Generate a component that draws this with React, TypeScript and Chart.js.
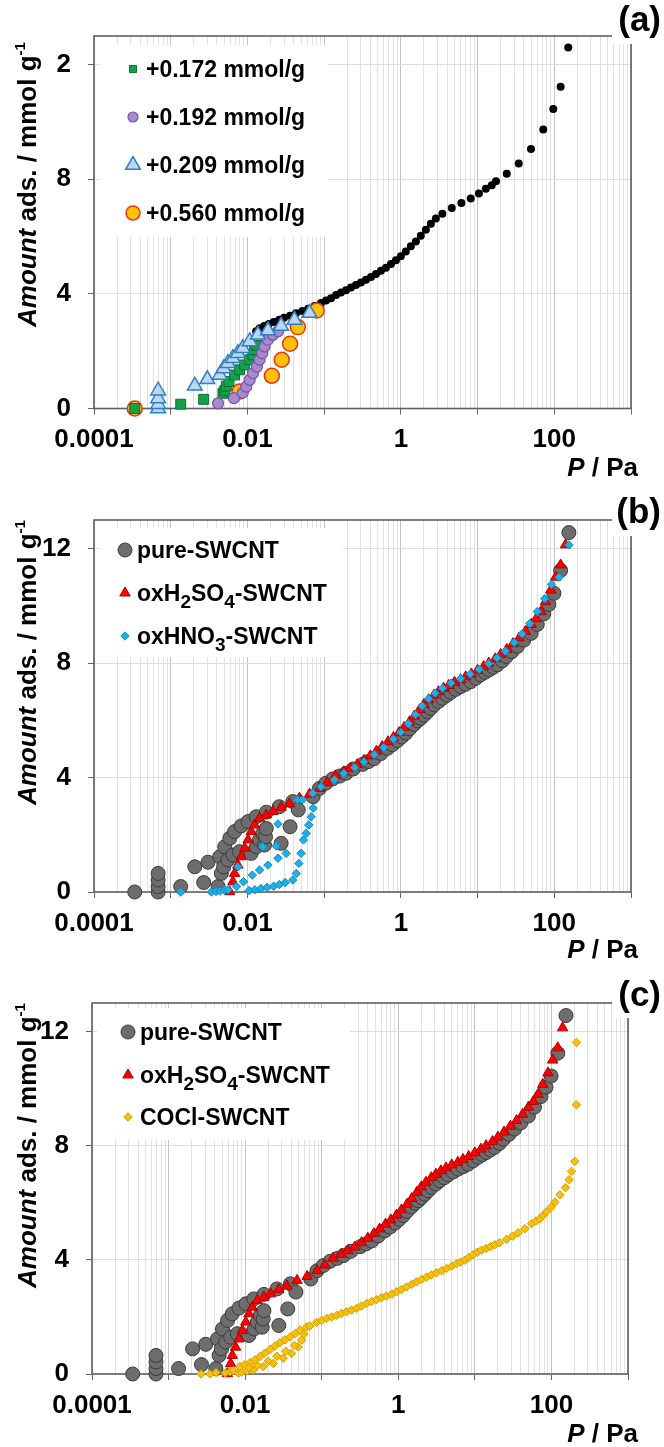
import React, { useEffect, useRef } from "react";
import { Chart, registerables } from "chart.js";

Chart.register(...registerables);

const FONT = '"Liberation Sans", Arial, Helvetica, sans-serif';
Chart.defaults.font.family = FONT;

// ---------- axis ticks ----------
const xLabelValues = [0.0001, 0.01, 1, 100];
const xTickLabels = ["0.0001", "0.01", "1", "100"];
const xDecades = [-4, -3, -2, -1, 0, 1, 2];
const yTickValues = [0, 4, 8, 12];
const yTickLabelsA = ["0", "4", "8", "2"];
const yTickLabelsBC = ["0", "4", "8", "12"];

// ---------- panel (a) ----------
const aBlackP = [0.013, 0.0144, 0.0165, 0.019, 0.022, 0.026, 0.03, 0.036, 0.043, 0.052,
  0.062, 0.075, 0.091, 0.106, 0.123, 0.143, 0.166, 0.193, 0.224, 0.26,
  0.302, 0.351, 0.408, 0.474, 0.55, 0.64, 0.743, 0.863, 1.0, 1.16,
  1.35, 1.57, 1.82, 2.12, 2.46, 2.86, 3.48, 4.61, 6.15, 8.15,
  10.4, 12.8, 15.3, 17.4, 24, 34.4, 49.7, 71.8, 97, 121,
  152];
const aBlackV = [2.7, 2.8, 2.88, 2.95, 3.02, 3.1, 3.17, 3.24, 3.32, 3.4,
  3.48, 3.58, 3.68, 3.77, 3.85, 3.96, 4.05, 4.13, 4.22, 4.31,
  4.4, 4.49, 4.59, 4.69, 4.81, 4.91, 5.04, 5.17, 5.31, 5.48,
  5.66, 5.83, 6.03, 6.24, 6.45, 6.63, 6.8, 7.0, 7.17, 7.33,
  7.5, 7.67, 7.79, 7.93, 8.19, 8.55, 9.06, 9.74, 10.45, 11.23,
  12.6];
const aGreenP = [0.00034, 0.00135, 0.00269, 0.0048, 0.00506, 0.0053, 0.00575, 0.0068, 0.0079, 0.0092, 0.0107, 0.0118, 0.0124, 0.0133];
const aGreenV = [0, 0.15, 0.32, 0.53, 0.62, 0.78, 0.94, 1.17, 1.35, 1.52, 1.7, 1.87, 2.05, 2.2];
const aPurpleP = [0.00414, 0.00667, 0.0087, 0.00966, 0.0107, 0.0118, 0.0133, 0.0144, 0.0156, 0.0167, 0.0185, 0.0215, 0.025];
const aPurpleV = [0.18, 0.36, 0.55, 0.76, 1.0, 1.23, 1.46, 1.7, 1.93, 2.16, 2.4, 2.57, 2.69];
const aTriP = [0.000685, 0.000685, 0.000685, 0.000685, 0.00206, 0.003, 0.00435, 0.0049, 0.00557, 0.00647, 0.0075, 0.0087, 0.0107, 0.0137, 0.0185, 0.0275, 0.041, 0.0645];
const aTriV = [0, 0.15, 0.35, 0.62, 0.79, 1.02, 1.17, 1.4, 1.58, 1.75, 1.93, 2.1, 2.34, 2.57, 2.72, 2.88, 3.09, 3.33];
const aOrangeP = [0.00034, 0.0079, 0.0208, 0.028, 0.036, 0.0454, 0.08];
const aOrangeV = [0, 0.59, 1.14, 1.7, 2.26, 2.84, 3.42];
const aLegendLabels = ["+0.172 mmol/g", "+0.192 mmol/g", "+0.209 mmol/g", "+0.560 mmol/g"];

// ---------- panels (b) and (c) ----------
const pureP = [0.00034, 0.000685, 0.000685, 0.000685, 0.000685, 0.00135, 0.00206, 0.00269, 0.00306, 0.00414,
  0.00435, 0.00457, 0.0049, 0.00506, 0.00557, 0.0059, 0.00647, 0.0068, 0.0079, 0.0083,
  0.0102, 0.0112, 0.013, 0.0131, 0.0144, 0.0158, 0.0167, 0.0172, 0.0176, 0.0176,
  0.026, 0.0275, 0.036, 0.039, 0.046, 0.0718,
  0.087, 0.105, 0.129, 0.16, 0.193, 0.24, 0.318, 0.38, 0.45, 0.55,
  0.671, 0.78, 0.906, 1.03, 1.16, 1.3, 1.49, 1.65, 1.82, 2.0,
  2.22, 2.45, 2.72, 3.1, 3.48, 4.0, 4.48, 5.2, 6.04, 7.0,
  8.15, 9.5, 11.0, 12.5, 14.1, 16, 18.1, 21, 23.7, 28,
  33, 40, 50, 60, 73, 85, 99, 121, 155];
const pureV = [0, 0, 0.19, 0.42, 0.65, 0.19, 0.88, 0.33, 1.04, 0.19,
  1.23, 0.65, 0.88, 1.58, 1.12, 1.88, 1.29, 2.11, 1.41, 2.31,
  2.46, 1.35, 2.63, 1.58, 1.82, 2.05, 1.64, 1.93, 2.79, 2.22,
  2.98, 1.7, 2.28, 3.16, 2.87, 3.33,
  3.62, 3.8, 3.95, 4.05, 4.15, 4.3, 4.46, 4.56, 4.66, 4.84,
  5.02, 5.15, 5.29, 5.42, 5.55, 5.7, 5.86, 5.98, 6.07, 6.18,
  6.3, 6.42, 6.54, 6.66, 6.77, 6.88, 6.98, 7.08, 7.18, 7.26,
  7.35, 7.47, 7.59, 7.68, 7.76, 7.85, 7.94, 8.08, 8.23, 8.4,
  8.58, 8.8, 9.04, 9.35, 9.72, 10.05, 10.44, 11.24, 12.56];

const h2so4P = [0.00587, 0.00647, 0.0068, 0.0075, 0.0083, 0.0092, 0.0102, 0.0112, 0.0124, 0.0144,
  0.0176, 0.0215, 0.0275, 0.0353, 0.0476, 0.0645, 0.087,
  0.11, 0.14, 0.18, 0.22, 0.27, 0.33, 0.4, 0.48, 0.57, 0.68,
  0.8, 0.95, 1.1, 1.3, 1.5, 1.75, 2.0, 2.3, 2.7, 3.1,
  3.6, 4.2, 5.0, 6.0, 7.0, 8.3, 10, 12, 14, 17,
  20, 24, 29, 35, 42, 50, 58, 67, 77, 90,
  104, 121, 140];
const h2so4V = [0.01, 0.36, 0.65, 0.94, 1.23, 1.53, 1.82, 2.11, 2.34, 2.58,
  2.69, 2.81, 2.96, 3.08, 3.28, 3.42, 3.62,
  3.82, 4.06, 4.2, 4.32, 4.45, 4.6, 4.76, 4.92, 5.08, 5.25,
  5.4, 5.57, 5.75, 5.95, 6.15, 6.37, 6.56, 6.72, 6.88, 7.0,
  7.12, 7.22, 7.33, 7.42, 7.52, 7.62, 7.75, 7.88, 8.0, 8.15,
  8.3, 8.48, 8.68, 8.88, 9.1, 9.35, 9.55, 9.8, 10.15, 10.55,
  11.0, 11.43, 12.13];

const hno3P = [0.00135, 0.00339, 0.0039, 0.0044, 0.005, 0.0056, 0.0072, 0.0089, 0.0116, 0.0144,
  0.0185, 0.025, 0.032, 0.0105, 0.0125, 0.015, 0.018, 0.022, 0.026, 0.031,
  0.0075, 0.0158, 0.0237, 0.025, 0.039, 0.0433, 0.0468, 0.05, 0.0537, 0.0583,
  0.063, 0.0677, 0.072, 0.045, 0.052, 0.071, 0.091, 0.136, 0.18, 0.25,
  0.33, 0.45, 0.6, 0.8, 1.0, 1.25, 1.55, 1.9, 2.3, 2.8,
  3.5, 4.5, 6, 8, 10.5, 14, 18, 23, 30, 38,
  48, 60, 75, 92, 115, 155];
const hno3V = [0, 0, 0.02, 0.03, 0.06, 0.08, 0.19, 0.36, 0.59, 0.77,
  0.94, 1.18, 1.35, 0.05, 0.08, 0.12, 0.16, 0.2, 0.26, 0.33,
  0.88, 1.58, 1.61, 2.38, 0.42, 0.65, 1.0, 1.35, 1.82, 2.05,
  2.34, 2.63, 2.93, 3.22, 3.22, 3.45, 3.68, 3.92, 4.15, 4.35,
  4.55, 4.8, 5.05, 5.35, 5.58, 5.88, 6.2, 6.5, 6.75, 6.95,
  7.12, 7.3, 7.45, 7.62, 7.78, 7.98, 8.18, 8.42, 8.72, 9.02,
  9.38, 9.8, 10.25, 10.75, 11.0, 12.13];

const coclP = [0.00265, 0.00347, 0.00416, 0.0055, 0.00634, 0.007, 0.0082, 0.009, 0.0105, 0.0128,
  0.0172, 0.0233, 0.0315, 0.0404, 0.0493, 0.0547, 0.0586, 0.00855, 0.0098, 0.0116,
  0.0135, 0.0156, 0.018, 0.0211, 0.0245, 0.0285, 0.033, 0.0385, 0.045, 0.0519,
  0.0635, 0.07, 0.0112, 0.0145, 0.02, 0.026, 0.034, 0.044,
  0.0858, 0.1, 0.116, 0.135, 0.157, 0.18, 0.211, 0.245, 0.286, 0.33,
  0.385, 0.45, 0.52, 0.6, 0.7, 0.82, 0.95, 1.1, 1.28, 1.5,
  1.73, 2.0, 2.34, 2.7, 3.16, 3.7, 4.27, 5.0, 5.77, 6.5,
  7.4, 8.3, 9.5, 10.8, 12.2, 14, 16, 18.2, 21, 25.9,
  31, 36.8, 45, 55, 63, 70.6, 78, 86, 99, 111,
  129, 153, 170, 183, 202, 212, 212];
const coclV = [0, 0, 0.05, 0.04, 0.08, 0.12, 0.03, 0.06, 0.1, 0.14,
  0.26, 0.37, 0.55, 0.72, 0.95, 1.19, 1.4, 0.26, 0.33, 0.4,
  0.5, 0.61, 0.73, 0.86, 0.98, 1.1, 1.2, 1.3, 1.42, 1.54,
  1.65, 1.68, 0.22, 0.3, 0.45, 0.62, 0.8, 1.0,
  1.81, 1.88, 1.95, 2.0, 2.06, 2.12, 2.18, 2.24, 2.3, 2.38,
  2.47, 2.54, 2.61, 2.67, 2.73, 2.8, 2.88, 2.96, 3.05, 3.14,
  3.23, 3.31, 3.4, 3.47, 3.55, 3.62, 3.7, 3.78, 3.87, 3.92,
  3.99, 4.08, 4.18, 4.27, 4.34, 4.4, 4.46, 4.53, 4.6, 4.72,
  4.83, 4.95, 5.09, 5.27, 5.36, 5.44, 5.56, 5.68, 5.84, 6.02,
  6.28, 6.53, 6.81, 7.1, 7.45, 9.43, 11.62];

const bLegendLabels = ["pure-SWCNT", "oxH_2SO_4-SWCNT", "oxHNO_3-SWCNT"];
const cLegendLabels = ["pure-SWCNT", "oxH_2SO_4-SWCNT", "COCl-SWCNT"];

// ---------- styles ----------
type Mk = { style: string; r: number; bg: string; border: string; bw: number };
const mkBlack: Mk = { style: "circle", r: 4, bg: "#000000", border: "#000000", bw: 0 };
const mkGreen: Mk = { style: "rect", r: 7, bg: "#17a04b", border: "#0b7030", bw: 1 };
const mkPurple: Mk = { style: "circle", r: 5.5, bg: "#a58bc9", border: "#7a4fb0", bw: 1.2 };
const mkTri: Mk = { style: "triangle", r: 8.5, bg: "#bdd7f0", border: "#2f7fc8", bw: 1.5 };
const mkOrange: Mk = { style: "circle", r: 7.5, bg: "#ffc000", border: "#e0381e", bw: 1.5 };
const mkGray: Mk = { style: "circle", r: 7, bg: "#6d6d6d", border: "#3a3a3a", bw: 1 };
const mkRed: Mk = { style: "triangle", r: 6, bg: "#ff0000", border: "#b00000", bw: 1 };
const mkBlue: Mk = { style: "rectRot", r: 4.2, bg: "#1cb0ea", border: "#0f8cc4", bw: 1 };
const mkYellow: Mk = { style: "rectRot", r: 4.2, bg: "#f6c00c", border: "#d59d00", bw: 1 };

type Area = { left: number; top: number; right: number; bottom: number };
type PanelCfg = {
  height: number;
  area: Area;
  tag: string;
  tagBaseline: number;
  tagBox: [number, number, number, number];
  yTitleBottom: number;
  xTitleBaseline: number;
  yLabels: string[];
  legendBox: [number, number, number, number];
  legendMarkerX: number;
  legendTextX: number;
  legendRows: number[];
  legendLabels: string[];
  legendMarkers: Mk[];
  datasets: { P: number[]; V: number[]; mk: Mk }[];
};

const pts = (P: number[], V: number[]) => P.map((p, i) => ({ x: p, y: V[i] }));

const isMajor = (v: number) => {
  const l = Math.log10(v);
  return Math.abs(l - Math.round(l)) < 1e-6;
};
const xLabel = (v: number) => {
  for (let i = 0; i < xLabelValues.length; i++) {
    if (Math.abs(Math.log10(v) - Math.log10(xLabelValues[i])) < 1e-6) return xTickLabels[i];
  }
  return "";
};
const xTickList: number[] = [];
xDecades.forEach((d) => {
  for (let m = 1; m <= 9; m++) xTickList.push(m * Math.pow(10, d));
});
xTickList.push(1000);

type Part = { t: string; italic?: boolean; sub?: boolean; sup?: boolean };
const parseLabel = (s: string): Part[] => {
  const out: Part[] = [];
  let cur = "";
  for (let i = 0; i < s.length; i++) {
    if (s[i] === "_" && i + 1 < s.length) {
      if (cur) out.push({ t: cur });
      cur = "";
      out.push({ t: s[i + 1], sub: true });
      i++;
    } else cur += s[i];
  }
  if (cur) out.push({ t: cur });
  return out;
};

function partFont(p: Part, size: number, small: number) {
  return `${p.italic ? "italic " : ""}bold ${p.sub || p.sup ? small : size}px ${FONT}`;
}
function partsWidth(ctx: CanvasRenderingContext2D, parts: Part[], size: number, small: number) {
  let w = 0;
  parts.forEach((p) => {
    ctx.font = partFont(p, size, small);
    w += ctx.measureText(p.t).width;
  });
  return w;
}
function drawParts(ctx: CanvasRenderingContext2D, parts: Part[], x: number, y: number, size: number, small: number, subDy: number, supDy: number) {
  ctx.textAlign = "left";
  ctx.textBaseline = "alphabetic";
  ctx.fillStyle = "#000";
  parts.forEach((p) => {
    ctx.font = partFont(p, size, small);
    const dy = p.sub ? subDy : p.sup ? supDy : 0;
    ctx.fillText(p.t, x, y + dy);
    x += ctx.measureText(p.t).width;
  });
}
function drawMarker(ctx: CanvasRenderingContext2D, mk: Mk, x: number, y: number) {
  const r = mk.r;
  ctx.beginPath();
  if (mk.style === "circle") ctx.arc(x, y, r, 0, Math.PI * 2);
  else if (mk.style === "rect") {
    const s = r * Math.SQRT1_2;
    ctx.rect(x - s, y - s, 2 * s, 2 * s);
  } else if (mk.style === "triangle") {
    for (let i = 0; i < 3; i++) {
      const a = (i * 2 * Math.PI) / 3;
      const px = x + Math.sin(a) * r;
      const py = y - Math.cos(a) * r;
      if (i === 0) ctx.moveTo(px, py);
      else ctx.lineTo(px, py);
    }
  } else {
    ctx.moveTo(x, y - r);
    ctx.lineTo(x + r, y);
    ctx.lineTo(x, y + r);
    ctx.lineTo(x - r, y);
  }
  ctx.closePath();
  ctx.fillStyle = mk.bg;
  ctx.fill();
  if (mk.bw > 0) {
    ctx.lineWidth = mk.bw;
    ctx.strokeStyle = mk.border;
    ctx.stroke();
  }
}

const yTitleParts: Part[] = [{ t: "Amount", italic: true }, { t: " ads. / mmol g" }, { t: "-1", sup: true }];
const xTitleParts: Part[] = [{ t: "P", italic: true }, { t: " / Pa" }];

function makeDecor(cfg: PanelCfg) {
  return {
    id: "decor",
    beforeDatasetsDraw(chart: any) {
      const ctx: CanvasRenderingContext2D = chart.ctx;
      const a = chart.chartArea;
      ctx.save();
      ctx.fillStyle = "#ffffff";
      const [bx, by, bw, bh] = cfg.legendBox;
      ctx.fillRect(bx, by, bw, bh);
      ctx.strokeStyle = "#5f5f5f";
      ctx.lineWidth = 1.6;
      ctx.strokeRect(a.left, a.top, a.right - a.left, a.bottom - a.top);
      ctx.restore();
    },
    afterDraw(chart: any) {
      const ctx: CanvasRenderingContext2D = chart.ctx;
      ctx.save();
      cfg.legendLabels.forEach((lab, i) => {
        const y = cfg.legendRows[i];
        drawMarker(ctx, cfg.legendMarkers[i], cfg.legendMarkerX, y);
        drawParts(ctx, parseLabel(lab), cfg.legendTextX, y + 8, 23, 19, 7, -9);
      });
      // panel tag
      ctx.fillStyle = "#ffffff";
      const [tx, ty, tw, th] = cfg.tagBox;
      ctx.fillRect(tx, ty, tw, th);
      ctx.fillStyle = "#000";
      ctx.font = `bold 35px ${FONT}`;
      ctx.textAlign = "right";
      ctx.textBaseline = "alphabetic";
      ctx.fillText(cfg.tag, 661, cfg.tagBaseline);
      // x title
      const xw = partsWidth(ctx, xTitleParts, 26, 15);
      drawParts(ctx, xTitleParts, 638 - xw, cfg.xTitleBaseline, 26, 15, 6, -10);
      // y title
      ctx.translate(36, cfg.yTitleBottom);
      ctx.rotate(-Math.PI / 2);
      drawParts(ctx, yTitleParts, 0, 0, 26, 15, 6, -11);
      ctx.restore();
    },
  };
}

function buildConfig(cfg: PanelCfg): any {
  const a = cfg.area;
  return {
    type: "scatter",
    data: {
      datasets: cfg.datasets.map((d) => ({
        data: pts(d.P, d.V),
        pointStyle: d.mk.style,
        pointRadius: d.mk.r,
        pointBackgroundColor: d.mk.bg,
        pointBorderColor: d.mk.border,
        pointBorderWidth: d.mk.bw,
        backgroundColor: d.mk.bg,
        borderColor: d.mk.border,
        showLine: false,
        clip: false,
      })),
    },
    options: {
      responsive: false,
      animation: false,
      events: [],
      layout: { padding: { left: 0, top: a.top, right: 664 - a.right, bottom: 0 } },
      plugins: { legend: { display: false }, tooltip: { enabled: false } },
      scales: {
        x: {
          type: "logarithmic",
          position: "bottom",
          min: 0.0001,
          max: 1000,
          afterBuildTicks: (s: any) => {
            s.ticks = xTickList.map((v) => ({ value: v }));
          },
          afterFit: (s: any) => {
            s.height = cfg.height - a.bottom;
          },
          border: { display: false },
          grid: {
            color: (c: any) => (c.tick && isMajor(c.tick.value) ? "#c4c4c4" : "#e2e2e2"),
            lineWidth: 1,
            drawTicks: true,
            tickLength: 6,
            tickColor: (c: any) => (c.tick && isMajor(c.tick.value) ? "#666666" : "rgba(0,0,0,0)"),
          },
          ticks: {
            autoSkip: false,
            maxRotation: 0,
            minRotation: 0,
            padding: 10,
            color: "#000",
            font: { family: FONT, size: 26, weight: "bold" },
            callback: (v: any) => xLabel(Number(v)),
          },
        },
        y: {
          type: "linear",
          position: "left",
          min: 0,
          max: 13,
          afterBuildTicks: (s: any) => {
            s.ticks = yTickValues.map((v) => ({ value: v }));
          },
          afterFit: (s: any) => {
            s.width = a.left;
          },
          border: { display: false },
          grid: { color: "#dedede", lineWidth: 1, drawTicks: true, tickLength: 6, tickColor: "#666666" },
          ticks: {
            padding: 17,
            color: "#000",
            font: { family: FONT, size: 26, weight: "bold" },
            callback: (v: any) => {
              const i = yTickValues.indexOf(Number(v));
              return i >= 0 ? cfg.yLabels[i] : "";
            },
          },
        },
      },
    },
    plugins: [makeDecor(cfg)],
  };
}

const panelA: PanelCfg = {
  height: 480,
  area: { left: 94, top: 36, right: 631, bottom: 408.5 },
  tag: "(a)",
  tagBaseline: 31,
  tagBox: [612, 0, 52, 44],
  yTitleBottom: 327,
  xTitleBaseline: 476,
  yLabels: yTickLabelsA,
  legendBox: [100, 45, 228, 192],
  legendMarkerX: 133,
  legendTextX: 146,
  legendRows: [69, 117, 165, 213],
  legendLabels: aLegendLabels,
  legendMarkers: [
    { ...mkGreen, r: 5 },
    { ...mkPurple, r: 5 },
    { ...mkTri, r: 8.5 },
    { ...mkOrange, r: 7 },
  ],
  datasets: [
    { P: aTriP, V: aTriV, mk: mkTri },
    { P: aPurpleP, V: aPurpleV, mk: mkPurple },
    { P: aGreenP, V: aGreenV, mk: mkGreen },
    { P: aOrangeP, V: aOrangeV, mk: mkOrange },
    { P: aBlackP, V: aBlackV, mk: mkBlack },
  ],
};

const panelB: PanelCfg = {
  height: 480,
  area: { left: 94, top: 40, right: 631, bottom: 412 },
  tag: "(b)",
  tagBaseline: 43,
  tagBox: [612, 10, 52, 46],
  yTitleBottom: 325,
  xTitleBaseline: 478,
  yLabels: yTickLabelsBC,
  legendBox: [100, 48, 243, 129],
  legendMarkerX: 125,
  legendTextX: 137,
  legendRows: [70, 113, 156],
  legendLabels: bLegendLabels,
  legendMarkers: [mkGray, mkRed, mkBlue],
  datasets: [
    { P: hno3P, V: hno3V, mk: mkBlue },
    { P: h2so4P, V: h2so4V, mk: mkRed },
    { P: pureP, V: pureV, mk: mkGray },
  ],
};

const panelC: PanelCfg = {
  height: 487,
  area: { left: 92, top: 43, right: 628, bottom: 414 },
  tag: "(c)",
  tagBaseline: 46,
  tagBox: [612, 12, 52, 46],
  yTitleBottom: 328,
  xTitleBaseline: 482,
  yLabels: yTickLabelsBC,
  legendBox: [97, 48, 253, 132],
  legendMarkerX: 128,
  legendTextX: 140,
  legendRows: [72, 115, 157],
  legendLabels: cLegendLabels,
  legendMarkers: [mkGray, mkRed, mkYellow],
  datasets: [
    { P: coclP, V: coclV, mk: mkYellow },
    { P: h2so4P, V: h2so4V, mk: mkRed },
    { P: pureP, V: pureV, mk: mkGray },
  ],
};

function Panel({ cfg }: { cfg: PanelCfg }) {
  const ref = useRef<HTMLCanvasElement>(null);
  useEffect(() => {
    const canvas = ref.current;
    if (!canvas) return;
    const chart = new Chart(canvas, buildConfig(cfg));
    return () => chart.destroy();
  }, [cfg]);
  return (
    <canvas
      ref={ref}
      width={664}
      height={cfg.height}
      style={{ display: "block", width: 664, height: cfg.height }}
    />
  );
}

export default function App() {
  useEffect(() => {
    document.body.style.margin = "0";
    document.body.style.background = "#ffffff";
  }, []);
  return (
    <div style={{ width: 664, background: "#fff" }}>
      <Panel cfg={panelA} />
      <Panel cfg={panelB} />
      <Panel cfg={panelC} />
    </div>
  );
}
